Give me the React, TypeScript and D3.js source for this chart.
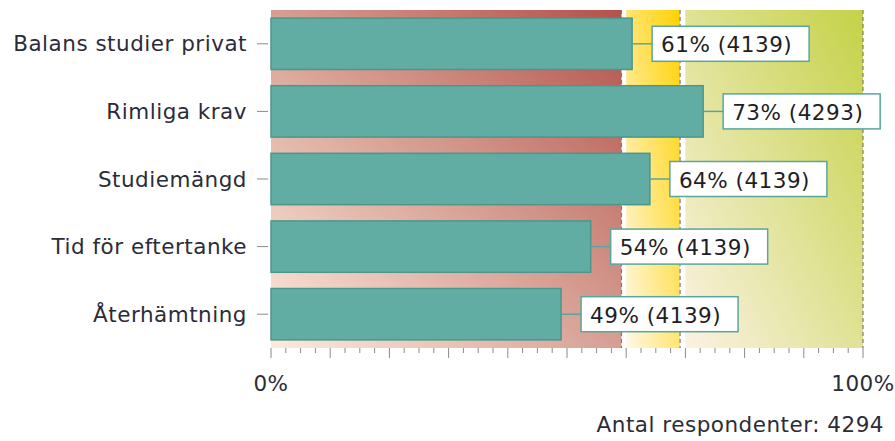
import React from "react";
import * as d3 from "d3";

const categories = ["Balans studier privat", "Rimliga krav", "Studiemängd", "Tid för eftertanke", "Återhämtning"];
const percents = [61, 73, 64, 54, 49];
const counts = [4139, 4293, 4139, 4139, 4139];
const zoneFrom = [0, 60, 70];
const zoneTo = [59.2, 69.1, 100];
const zoneLight = ["#fcebdc", "#fff8e6", "#fbf2e2"];
const zoneDark = ["#b2524a", "#ffd200", "#c4d247"];
const axisLabels = ["0%", "100%"];
const axisLabelValues = [0, 100];
const respondents = 4294;

const W = 895;
const H = 441;
const FONT = "DejaVu Sans, sans-serif";
const FS = 21.5;
const LS = 0.5;
const TEXT = "#2c2c38";

export default function App() {
  const x = d3.scaleLinear().domain([0, 100]).range([271, 863]);
  const y = d3.scaleBand<string>().domain(categories).range([10, 348]).paddingInner(0.24).paddingOuter(0.12);
  const top = 10;
  const bottom = 348;
  const minorTicks = d3.range(0, 100.01, 2.5);

  return (
    <svg width={W} height={H} style={{ position: "absolute", left: 0, top: 0, background: "#fff" }}>
      <defs>
        {zoneFrom.map((_, i) => (
          <linearGradient key={i} id={`zg${i}`} x1="0" y1="1" x2="1" y2="0">
            <stop offset="0%" stopColor={zoneLight[i]} />
            <stop offset="100%" stopColor={zoneDark[i]} />
          </linearGradient>
        ))}
      </defs>
      {zoneFrom.map((f, i) => (
        <g key={i}>
          <rect x={x(f)} y={top} width={x(zoneTo[i]) - x(f)} height={bottom - top} fill={`url(#zg${i})`} />
          <line x1={x(zoneTo[i])} x2={x(zoneTo[i])} y1={top} y2={bottom} stroke="#7a7a7a" strokeWidth={1.2} strokeDasharray="4,3" />
        </g>
      ))}
      {minorTicks.map((t) => (
        <line key={`m${t}`} x1={x(t)} x2={x(t)} y1={bottom} y2={bottom + (t % 10 === 0 ? 10 : 5)} stroke="#8a8a8a" strokeWidth={1} />
      ))}
      {categories.map((c, i) => {
        const yc = (y(c) as number) + y.bandwidth() / 2;
        const xe = x(percents[i]);
        const label = `${percents[i]}% (${counts[i]})`;
        const bx = xe + 20;
        const bw = label.length * 13 + 27;
        return (
          <g key={c}>
            <line x1={257} x2={268} y1={yc} y2={yc} stroke="#8a8a8a" />
            <text x={247} y={yc} textAnchor="end" dominantBaseline="central" fontFamily={FONT} fontSize={FS} letterSpacing={LS} fill={TEXT}>
              {c}
            </text>
            <rect x={x(0)} y={y(c)} width={xe - x(0)} height={y.bandwidth()} fill="#61ada4" stroke="#4c968d" strokeWidth={1.5} />
            <line x1={xe} x2={bx} y1={yc} y2={yc} stroke="#5aa69d" strokeWidth={1.5} />
            <rect x={bx} y={yc - 17.5} width={bw} height={35} fill="#fff" stroke="#5aa69d" strokeWidth={1.5} />
            <text x={bx + 9} y={yc + 1} dominantBaseline="central" fontFamily={FONT} fontSize={FS} letterSpacing={LS} fill="#1e1e24">
              {label}
            </text>
          </g>
        );
      })}
      {axisLabels.map((l, i) => (
        <text key={l} x={x(axisLabelValues[i])} y={391} textAnchor="middle" fontFamily={FONT} fontSize={FS} letterSpacing={LS} fill={TEXT}>
          {l}
        </text>
      ))}
      <text x={884} y={432} textAnchor="end" fontFamily={FONT} fontSize={FS} letterSpacing={LS} fill={TEXT}>
        {`Antal respondenter: ${respondents}`}
      </text>
    </svg>
  );
}
